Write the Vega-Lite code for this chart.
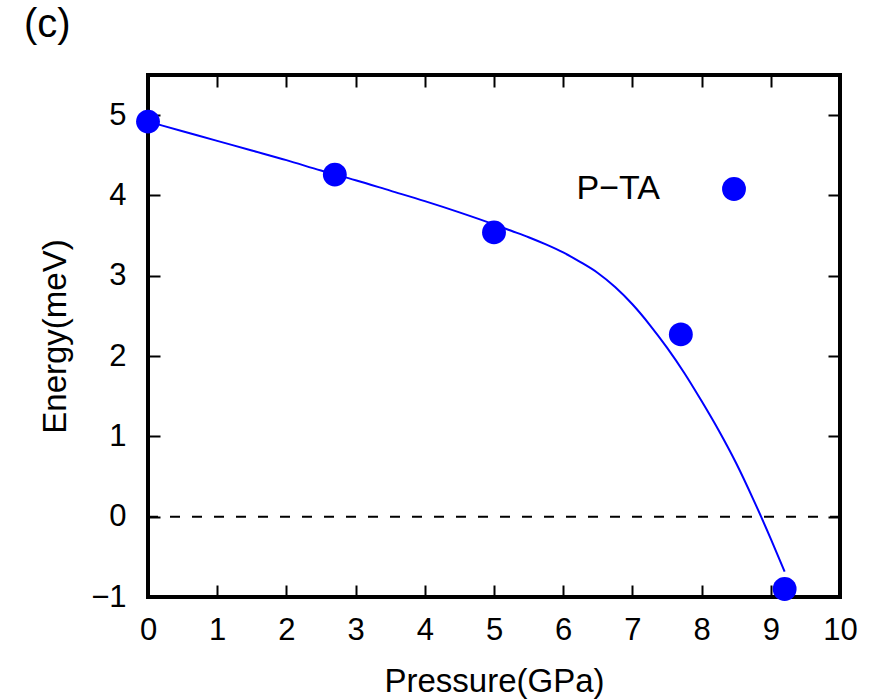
{
  "$schema": "https://vega.github.io/schema/vega-lite/v6.json",
  "width": 692,
  "height": 522,
  "autosize": {"type": "none"},
  "padding": {"left": 148, "top": 75, "right": 44, "bottom": 102},
  "background": "white",
  "title": {"text": "(c)", "anchor": "start", "frame": "group", "font": "Liberation Sans", "fontSize": 40, "fontWeight": "normal", "color": "black", "baseline": "alphabetic", "offset": -3, "dx": -124},
  "config": {
    "view": {"stroke": "black", "strokeWidth": 4},
    "axis": {"domain": false, "grid": false, "labelFlush": false, "tickColor": "black", "tickWidth": 2, "tickSize": -12, "labelFont": "Liberation Sans", "labelFontSize": 31, "labelColor": "black", "titleFont": "Liberation Sans", "titleFontSize": 33, "titleFontWeight": "normal", "titleColor": "black"}
  },
  "datasets": {
    "fit": [
      {"p": 0, "e": 4.92}, {"p": 0.5, "e": 4.8}, {"p": 1, "e": 4.68}, {"p": 1.5, "e": 4.56},
      {"p": 2, "e": 4.44}, {"p": 2.5, "e": 4.31}, {"p": 3, "e": 4.19}, {"p": 3.5, "e": 4.06},
      {"p": 4, "e": 3.93}, {"p": 4.5, "e": 3.79}, {"p": 5, "e": 3.64}, {"p": 5.25, "e": 3.56},
      {"p": 5.5, "e": 3.48}, {"p": 5.75, "e": 3.39}, {"p": 6, "e": 3.29}, {"p": 6.25, "e": 3.17},
      {"p": 6.5, "e": 3.035}, {"p": 6.75, "e": 2.86}, {"p": 7, "e": 2.645}, {"p": 7.25, "e": 2.39},
      {"p": 7.5, "e": 2.105}, {"p": 7.75, "e": 1.79}, {"p": 8, "e": 1.44}, {"p": 8.25, "e": 1.07},
      {"p": 8.5, "e": 0.665}, {"p": 8.75, "e": 0.21}, {"p": 9, "e": -0.275}, {"p": 9.2, "e": -0.685}
    ],
    "pts": [
      {"p": 0, "e": 4.92, "series": "P−TA"},
      {"p": 2.7, "e": 4.26, "series": "P−TA"},
      {"p": 5, "e": 3.54, "series": "P−TA"},
      {"p": 7.7, "e": 2.27, "series": "P−TA"},
      {"p": 9.2, "e": -0.9, "series": "P−TA"}
    ]
  },
  "layer": [
    {
      "data": {"values": [{}]},
      "mark": {"type": "rule", "color": "black", "strokeWidth": 2, "strokeDash": [10, 12]},
      "encoding": {"y": {"datum": 0, "type": "quantitative", "axis": null}}
    },
    {
      "data": {"name": "fit"},
      "mark": {"type": "line", "color": "#0000ff", "strokeWidth": 2, "interpolate": "monotone"},
      "encoding": {
        "x": {"field": "p", "type": "quantitative", "scale": {"domain": [0, 10], "nice": false, "zero": false},
              "axis": {"orient": "top", "values": [0,1,2,3,4,5,6,7,8,9,10], "labels": false, "title": null}},
        "y": {"field": "e", "type": "quantitative", "scale": {"domain": [-1, 5.5], "nice": false, "zero": false},
              "axis": {"orient": "right", "values": [-1,0,1,2,3,4,5], "labels": false, "title": null}}
      }
    },
    {
      "data": {"name": "pts"},
      "mark": {"type": "point", "filled": true, "opacity": 1, "size": 570},
      "encoding": {
        "x": {"field": "p", "type": "quantitative",
              "axis": {"orient": "bottom", "values": [0,1,2,3,4,5,6,7,8,9,10], "title": "Pressure(GPa)", "labelPadding": 30, "titlePadding": 20}},
        "y": {"field": "e", "type": "quantitative",
              "axis": {"orient": "left", "values": [-1,0,1,2,3,4,5], "title": "Energy(meV)", "labelPadding": 34, "titlePadding": 18}},
        "color": {"field": "series", "type": "nominal", "scale": {"range": ["#0000ff"]},
                  "legend": {"title": null, "orient": "none", "legendX": 569, "legendY": 97, "padding": 0, "symbolType": "circle", "symbolSize": 570, "symbolStrokeWidth": 0, "labelAlign": "right", "labelOffset": -91, "labelFont": "Liberation Sans", "labelFontSize": 34, "labelColor": "black"}}
      }
    }
  ],
  "resolve": {"axis": {"x": "independent", "y": "independent"}}
}
